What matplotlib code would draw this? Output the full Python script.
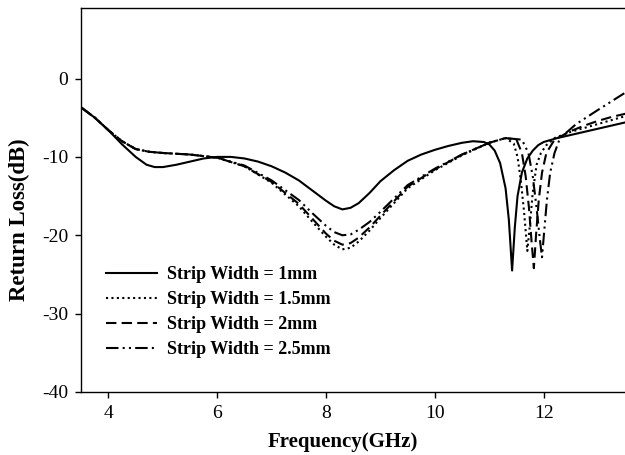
import numpy as np
import matplotlib
matplotlib.use("Agg")
import matplotlib.pyplot as plt

plt.rcParams['font.family'] = ['Liberation Serif', 'DejaVu Serif']
plt.rcParams['axes.unicode_minus'] = False

# frequency (GHz) / return loss (dB)
f_1 = [3.5, 3.75, 4.0, 4.25, 4.5, 4.7, 4.85, 5.0, 5.25, 5.5, 5.75, 6.0, 6.25, 6.5, 6.75, 7.0, 7.25, 7.5,
       7.75, 8.0, 8.15, 8.3, 8.45, 8.6, 8.8, 9.0, 9.25, 9.5, 9.75, 10.0, 10.25, 10.5, 10.7, 10.9, 11.0,
       11.1, 11.2, 11.3, 11.36, 11.42, 11.47, 11.52, 11.6, 11.7, 11.8, 11.9, 12.0, 12.25, 12.5, 12.75,
       13.0, 13.25, 13.5]
rl_1 = [-3.7, -5.0, -6.6, -8.4, -10.0, -11.0, -11.3, -11.3, -11.0, -10.6, -10.2, -10.0, -10.0, -10.2,
        -10.6, -11.2, -12.0, -13.0, -14.3, -15.6, -16.3, -16.7, -16.5, -15.9, -14.6, -13.1, -11.7, -10.5,
        -9.7, -9.1, -8.6, -8.2, -8.0, -8.1, -8.4, -9.2, -10.8, -14.0, -18.0, -24.5, -19.0, -15.0, -12.0,
        -10.2, -9.2, -8.5, -8.1, -7.6, -7.2, -6.8, -6.4, -6.0, -5.6]

f_15 = [3.5, 3.75, 4.0, 4.25, 4.5, 4.75, 5.0, 5.5, 6.0, 6.5, 7.0, 7.5, 7.75, 8.0, 8.15, 8.3, 8.45, 8.6,
        8.8, 9.0, 9.5, 10.0, 10.5, 11.0, 11.3, 11.45, 11.52, 11.58, 11.64, 11.7, 11.75, 11.8, 11.87,
        11.95, 12.05, 12.2, 12.5, 12.75, 13.0, 13.25, 13.5]
rl_15 = [-3.7, -5.0, -6.6, -8.0, -9.0, -9.35, -9.5, -9.7, -10.1, -11.2, -13.3, -16.3, -18.3, -20.2,
         -21.2, -21.8, -21.6, -20.8, -19.4, -17.8, -14.0, -11.7, -9.8, -8.2, -7.6, -8.3, -10.0, -13.0,
         -17.0, -22.0, -18.5, -14.5, -11.0, -9.5, -8.5, -7.6, -6.8, -6.3, -5.8, -5.3, -4.8]

f_2 = [3.5, 3.75, 4.0, 4.25, 4.5, 4.75, 5.0, 5.5, 6.0, 6.5, 7.0, 7.5, 7.75, 8.0, 8.15, 8.3, 8.45, 8.6,
       8.8, 9.0, 9.5, 10.0, 10.5, 11.0, 11.3, 11.5, 11.6, 11.67, 11.73, 11.78, 11.82, 11.86, 11.91,
       11.97, 12.05, 12.2, 12.5, 12.75, 13.0, 13.25, 13.5]
rl_2 = [-3.7, -5.0, -6.6, -8.0, -9.0, -9.35, -9.5, -9.7, -10.1, -11.2, -13.2, -16.0, -17.9, -19.8,
        -20.7, -21.2, -21.0, -20.3, -19.0, -17.5, -13.8, -11.6, -9.7, -8.2, -7.6, -7.8, -9.5, -12.5,
        -16.5, -21.0, -24.2, -20.0, -15.5, -12.0, -9.5, -7.8, -6.7, -6.0, -5.4, -4.9, -4.5]

f_25 = [3.5, 3.75, 4.0, 4.25, 4.5, 4.75, 5.0, 5.5, 6.0, 6.5, 7.0, 7.5, 7.75, 8.0, 8.15, 8.3, 8.45, 8.6,
        8.8, 9.0, 9.5, 10.0, 10.5, 11.0, 11.3, 11.6, 11.72, 11.8, 11.87, 11.93, 11.97, 12.01, 12.06,
        12.12, 12.2, 12.3, 12.45, 12.6, 12.8, 13.0, 13.25, 13.5]
rl_25 = [-3.7, -5.0, -6.6, -8.0, -9.0, -9.35, -9.5, -9.7, -10.1, -11.1, -13.0, -15.5, -17.2, -18.8,
         -19.6, -20.0, -19.9, -19.3, -18.3, -17.0, -13.6, -11.5, -9.7, -8.2, -7.6, -7.8, -9.5, -12.5,
         -16.5, -20.5, -22.8, -19.5, -15.5, -12.0, -9.5, -7.6, -6.7, -5.8, -4.9, -4.0, -2.9, -1.8]

labels = ['Strip Width = 1mm', 'Strip Width = 1.5mm', 'Strip Width = 2mm', 'Strip Width = 2.5mm']
xticks = [4, 6, 8, 10, 12]
yticks = [-40, -30, -20, -10, 0]

fig = plt.figure(figsize=(6.25, 4.55), dpi=100)
ax = fig.add_axes([0.130, 0.1385, 0.8704, 0.8439])

lw = 1.5
ax.plot(f_1, rl_1, color='black', lw=lw, ls='-', label=labels[0])
ax.plot(f_15, rl_15, color='black', lw=lw, ls=(0, (1, 1.6)), label=labels[1])
ax.plot(f_2, rl_2, color='black', lw=lw, ls=(0, (5, 2.5)), label=labels[2])
ax.plot(f_25, rl_25, color='black', lw=lw, ls=(0, (6, 2, 1, 2, 1, 2)), label=labels[3])

ax.set_xlim(3.5, 13.5)
ax.set_ylim(-40, 9)
ax.set_xticks(xticks)
ax.set_yticks(yticks)
ax.tick_params(direction='out', length=4.5, width=1, labelsize=14, pad=5, top=False, right=False)
ax.spines['right'].set_visible(False)
for s in ['left', 'bottom', 'top']:
    ax.spines[s].set_linewidth(1)

ax.set_xlabel('Frequency(GHz)', fontsize=15, fontweight='bold')
ax.xaxis.set_label_coords(0.481, -0.105)
ax.set_ylabel('Return Loss(dB)', fontsize=16.5, fontweight='bold')
ax.yaxis.set_label_coords(-0.095, 0.45)

ax.legend(loc='upper left', bbox_to_anchor=(106 / 625, 1 - 266 / 455), bbox_transform=fig.transFigure,
          frameon=False, prop={'weight': 'bold', 'size': 13}, handlelength=2.8, handletextpad=0.6,
          labelspacing=0.45, borderaxespad=0, borderpad=0)

fig.savefig('out.png', dpi=100)
